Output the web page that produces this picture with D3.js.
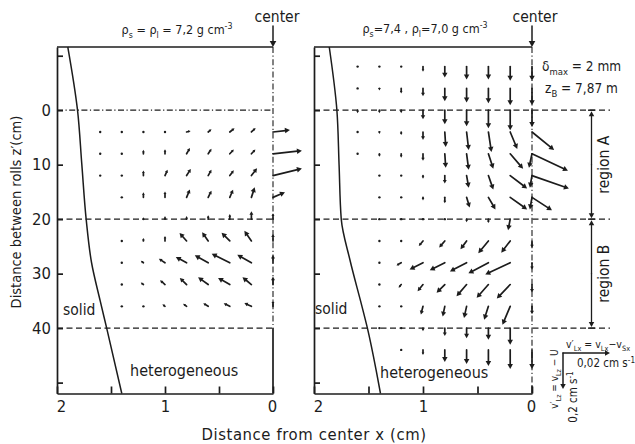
<!DOCTYPE html>
<html><head><meta charset="utf-8">
<script src="https://cdn.jsdelivr.net/npm/d3@7"></script>
<style>
body{margin:0;background:#fff}
svg{display:block}
text{font-family:"DejaVu Sans Condensed","DejaVu Sans",sans-serif;fill:#1c1c1c}
</style>
</head><body>
<svg id="fig" width="635" height="444"></svg>
<script>
// ---- axis ticks ----
const xTickLabels = [2, 1, 0];
const xTickMarks = [2, 1.5, 1, 0.5, 0];
const zTickLabels = [0, 10, 20, 30, 40];
const zTickMarks = [-10, 0, 10, 20, 30, 40, 50];
const zExtent = [-11.6, 52];
const regionLines = [0, 20, 40];

// ---- solid / heterogeneous boundary (x in cm, z' in cm) ----
const boundLeftZ = [-11.6, 0, 10, 20, 28, 35, 40, 52];
const boundLeftX = [1.90, 1.81, 1.77, 1.73, 1.68, 1.60, 1.54, 1.40];
const boundRightZ = [-11.6, 0, 10, 20, 27.5, 36, 40, 47.7, 52];
const boundRightX = [1.86, 1.79, 1.77, 1.75, 1.67, 1.56, 1.51, 1.43, 1.39];

// ---- liquid velocity relative to solid, cm/s ----
// u: horizontal (+ toward centre), w: vertical (+ downward)
const gridCols = [1.6, 1.4, 1.2, 1.0, 0.8, 0.6, 0.4, 0.2, 0.0];

// left: rho_s = rho_l
const leftRows = [4, 8, 12, 16, 20, 24, 28, 32, 36];
const leftU = [
  [0, 0, 0, 0, .0017, .0014, .0020, .0018, null],
  [0, 0, 0, 0, .0014, .0014, .0017, .0017, null],
  [0, 0, 0, .0011, .0018, .0014, .0017, .0024, null],
  [null, 0, 0, 0, .0014, .0014, .0014, .0014, null],
  [null, null, 0, 0, 0, 0, 0, 0, 0],
  [null, 0, 0, 0, -.0030, -.0026, -.0035, -.0030, 0],
  [null, 0, -.0011, -.0026, -.0046, -.0057, -.0077, -.0060, 0],
  [null, 0, -.0011, -.0021, -.0029, -.0043, -.0050, -.0038, 0],
  [null, 0, 0, -.0011, -.0015, -.0021, -.0026, -.0030, 0]
];
const leftW = [
  [0, 0, 0, 0, -.006, -.015, -.021, -.022, null],
  [0, 0, -.022, -.025, -.032, -.028, -.024, -.024, null],
  [0, 0, -.028, -.033, -.037, -.032, -.029, -.041, null],
  [null, 0, -.028, -.033, -.044, -.037, -.043, -.056, null],
  [null, null, -.011, -.017, -.017, -.022, -.028, -.044, -.033],
  [null, 0, -.017, -.028, -.044, -.048, -.046, -.056, -.039],
  [null, 0, -.011, -.022, -.032, -.041, -.050, -.044, -.044],
  [null, 0, -.011, -.024, -.037, -.041, -.037, -.041, -.044],
  [null, 0, 0, -.011, -.014, -.017, -.017, -.018, -.033]
];
const leftCentreRows = [4, 8, 12, 16];
const leftCentreU = [.0072, .0123, .0123, .0051];
const leftCentreW = [-.011, -.017, -.039, -.028];

// right: rho_s = 7.4, rho_l = 7.0
const rightRows = [-8, -4, 0, 4, 8, 12, 16, 20, 24, 28, 32, 36, 40, 44];
const rightU = [
  [0, 0, 0, 0, 0, 0, 0, 0, 0],
  [0, 0, 0, 0, 0, 0, 0, 0, 0],
  [0, 0, 0, 0, 0, 0, 0, 0, 0],
  [0, 0, 0, 0, .0004, .0009, .0013, .0030, null],
  [0, 0, 0, 0, .0004, .0009, .0021, .0055, -.0013],
  [null, 0, 0, 0, 0, .0009, .0021, .0072, -.0009],
  [null, 0, 0, 0, 0, .0013, .0030, .0072, -.0009],
  [null, 0, 0, 0, 0, 0, 0, -.0009, null],
  [null, 0, 0, -.0018, -.0024, -.0026, -.0043, -.0038, 0],
  [null, 0, -.0020, -.0057, -.0064, -.0071, -.0085, -.0106, 0],
  [null, 0, -.0011, -.0023, -.0035, -.0043, -.0050, -.0057, 0],
  [null, 0, 0, -.0009, -.0009, -.0011, -.0018, -.0033, 0],
  [null, 0, 0, 0, 0, 0, 0, 0, null],
  [null, null, 0, 0, 0, 0, 0, 0, 0]
];
const rightW = [
  [0, 0, 0, .028, .061, .072, .072, .078, .078],
  [0, .011, .028, .044, .072, .078, .083, .094, .094],
  [.017, .017, .017, .050, .078, .089, .100, .111, .094],
  [0, .011, .017, .044, .083, .100, .111, .094, null],
  [0, .017, .022, .039, .078, .089, .083, .083, .078],
  [null, 0, 0, .017, .044, .067, .078, .072, .067],
  [null, 0, 0, .017, .033, .056, .067, .067, .067],
  [null, 0, 0, 0, 0, .017, .022, .061, null],
  [null, 0, 0, .028, .037, .046, .068, .065, .039],
  [null, 0, .015, .037, .041, .048, .059, .065, .039],
  [null, 0, .018, .037, .046, .065, .074, .078, .044],
  [null, 0, 0, .046, .056, .065, .074, .102, .044],
  [null, 0, 0, .017, .044, .056, .065, .093, null],
  [null, null, 0, .028, .067, .078, .089, .106, .106]
];
const rightCentreRows = [4, 8, 12, 16];
const rightCentreU = [.0094, .0153, .0157, .0085];
const rightCentreW = [.100, .094, .072, .072];

// reference vectors
const refU = 0.02, refW = 0.2;

// ---- scales ----
const ink = "#1c1c1c";
const svg = d3.select("#fig");
const z = d3.scaleLinear().domain(zExtent).range([47, 393.5]);
const xL = d3.scaleLinear().domain([2, 0]).range([57, 273]);
const xR = d3.scaleLinear().domain([2, 0]).range([314, 532]);
const uS = d3.scaleLinear().domain([0, refU]).range([0, 47]);
const wS = d3.scaleLinear().domain([0, refW]).range([0, 36]);

const dashed = "6,3.5";
const dashDot = "6,2.5,1.2,2.5";

function line(g, x1, y1, x2, y2, dash, w) {
  g.append("line").attr("x1", x1).attr("y1", y1).attr("x2", x2).attr("y2", y2)
    .attr("stroke", ink).attr("stroke-width", w || 1.3)
    .attr("stroke-dasharray", dash || null);
}

function arrow(g, x0, y0, dx, dy, opt) {
  opt = opt || {};
  const len = Math.hypot(dx, dy);
  if (len < 1.3) {
    g.append("circle").attr("cx", x0).attr("cy", y0).attr("r", 1.2).attr("fill", ink);
    return;
  }
  const h = opt.head || Math.min(5, Math.max(2.4, len * 0.45));
  const hw = h * 0.55;
  const ux = dx / len, uy = dy / len;
  const tx = x0 + dx, ty = y0 + dy;
  const bx = tx - ux * h * 0.9, by = ty - uy * h * 0.9;
  g.append("line").attr("x1", x0).attr("y1", y0).attr("x2", bx).attr("y2", by)
    .attr("stroke", ink).attr("stroke-width", opt.w || 1.7).attr("stroke-linecap", "round");
  const hx = tx - ux * h, hy = ty - uy * h;
  g.append("path")
    .attr("d", `M${tx},${ty}L${hx - uy * hw},${hy + ux * hw}L${hx + uy * hw},${hy - ux * hw}Z`)
    .attr("fill", ink);
}

function rich(g, x, y, parts, size, anchor, rotate) {
  const t = g.append("text").attr("font-size", size).attr("text-anchor", anchor || "start");
  if (rotate) t.attr("transform", `translate(${x},${y}) rotate(${rotate})`);
  else t.attr("x", x).attr("y", y);
  let shift = 0;
  parts.forEach(([s, k]) => {
    const target = k === "sub" ? size * 0.28 : k === "sup" ? -size * 0.38 : 0;
    t.append("tspan").attr("dy", target - shift)
      .attr("font-size", k ? size * 0.7 : size).text(s);
    shift = target;
  });
  return t;
}

function panel(x, rows, U, W, cRows, cU, cW, bZ, bX, opts) {
  const g = svg.append("g");
  // frame
  line(g, x(2), z(zExtent[0]), x(0), z(zExtent[0]), null, 1.7);
  const yAxis = d3.axisLeft(z).tickValues(zTickMarks).tickSize(-6).tickSizeOuter(0)
    .tickPadding(6).tickFormat(d => opts.labels && zTickLabels.includes(d) ? d : "");
  const ya = g.append("g").attr("transform", `translate(${x(2)},0)`).call(yAxis);
  const xAxis = d3.axisBottom(x).tickValues(xTickMarks).tickSize(-7).tickSizeOuter(0)
    .tickPadding(7).tickFormat(d => xTickLabels.includes(d) ? d : "");
  const xa = g.append("g").attr("transform", `translate(0,${z(zExtent[1])})`).call(xAxis);
  [ya, xa].forEach(a => {
    a.attr("font-family", null).attr("font-size", 16.5);
    a.selectAll("path,line").attr("stroke", ink).attr("stroke-width", 1.7);
    a.selectAll("text").attr("fill", ink);
  });
  xa.selectAll("text").attr("dx", d => d === 2 ? 4 : d === 0 ? -1 : 0);

  // region borders
  regionLines.forEach(v => {
    const dash = opts.firstDashDot && v === 0 ? dashDot : dashed;
    line(g, x(2), z(v), opts.lineEnd, z(v), dash, 1.3);
  });

  // centre line
  opts.centre(g);

  // solid / heterogeneous boundary
  const pts = bZ.map((v, i) => [x(bX[i]), z(v)]);
  g.append("path").attr("d", d3.line().curve(d3.curveMonotoneY)(pts))
    .attr("fill", "none").attr("stroke", ink).attr("stroke-width", 1.5);

  // velocity grid
  rows.forEach((r, i) => gridCols.forEach((c, j) => {
    const u = U[i][j], w = W[i][j];
    if (u === null || w === null) return;
    arrow(g, x(c), z(r), uS(u), wS(w));
  }));
  cRows.forEach((r, i) => arrow(g, x(0), z(r), uS(cU[i]), wS(cW[i])));
  return g;
}

// left panel
panel(xL, leftRows, leftU, leftW, leftCentreRows, leftCentreU, leftCentreW,
  boundLeftZ, boundLeftX, {
    labels: true, firstDashDot: true, lineEnd: xL(0),
    centre: g => {
      line(g, xL(0), z(zExtent[0]), xL(0), z(40), dashDot, 1.1);
      line(g, xL(0), z(40), xL(0), z(zExtent[1]), null, 1.7);
    }
  });

// right panel
panel(xR, rightRows, rightU, rightW, rightCentreRows, rightCentreU, rightCentreW,
  boundRightZ, boundRightX, {
    labels: false, firstDashDot: false, lineEnd: 610,
    centre: g => {
      line(g, xR(0), z(zExtent[0]), xR(0), z(zExtent[1]) - 8, dashDot, 1.1);
      line(g, xR(0), z(zExtent[1]) - 8, xR(0), z(zExtent[1]), null, 1.7);
    }
  });

// ---- texts ----
const T = svg.append("g");
rich(T, 177, 34, [["ρ"], ["s", "sub"], [" = ρ"], ["l", "sub"], [" = 7,2 g cm"], ["-3", "sup"]], 12.5, "middle");
rich(T, 425, 33, [["ρ"], ["s", "sub"], ["=7,4 ,  ρ"], ["l", "sub"], ["=7,0 g cm"], ["-3", "sup"]], 12.5, "middle");
T.append("text").attr("x", 277).attr("y", 22).attr("font-size", 15.5).attr("text-anchor", "middle").text("center");
T.append("text").attr("x", 535).attr("y", 22).attr("font-size", 15.5).attr("text-anchor", "middle").text("center");
arrow(T, xL(0), 26, 0, z(zExtent[0]) - 26, { head: 6, w: 1.5 });
arrow(T, xR(0), 26, 0, z(zExtent[0]) - 26, { head: 6, w: 1.5 });

rich(T, 542, 71, [["δ"], ["max", "sub"], [" = 2  mm"]], 13.5, "start");
rich(T, 545, 93, [["z"], ["B", "sub"], [" = 7,87  m"]], 13.5, "start");

T.append("text").attr("font-size", 14.5).attr("text-anchor", "middle")
  .attr("transform", "translate(21,212) rotate(-90)").text("Distance between rolls  z′(cm)");
T.append("text").attr("x", 314).attr("y", 440).attr("font-size", 16.5).attr("letter-spacing", 0.6)
  .attr("text-anchor", "middle").text("Distance from center  x (cm)");

T.append("text").attr("x", 63).attr("y", 315).attr("font-size", 15.5).text("solid");
T.append("text").attr("x", 315).attr("y", 314).attr("font-size", 15.5).text("solid");
T.append("text").attr("x", 130).attr("y", 376).attr("font-size", 16).text("heterogeneous");
T.append("text").attr("x", 380).attr("y", 378).attr("font-size", 16).text("heterogeneous");

// region brackets
const bx = 591.5;
[[0, 20], [20, 40]].forEach(([a, b]) => {
  const mid = (z(a) + z(b)) / 2;
  arrow(T, bx, mid, 0, z(a) - mid + 1, { head: 5, w: 1.3 });
  arrow(T, bx, mid, 0, z(b) - mid - 1, { head: 5, w: 1.3 });
});
regionLines.forEach(v => line(T, bx - 3.5, z(v), bx + 3.5, z(v), null, 1.4));
T.append("text").attr("font-size", 15.5).attr("text-anchor", "middle")
  .attr("transform", `translate(609,${(z(0) + z(20)) / 2}) rotate(-90)`).text("region A");
T.append("text").attr("font-size", 15.5).attr("text-anchor", "middle")
  .attr("transform", `translate(609,${(z(20) + z(40)) / 2}) rotate(-90)`).text("region B");

// reference vectors
const ox = 563, oy = 353;
arrow(T, ox, oy, uS(refU), 0, { head: 5, w: 1.5 });
arrow(T, ox, oy, 0, wS(refW), { head: 5, w: 1.5 });
rich(T, 566, 348, [["v′"], ["Lx", "sub"], [" = v"], ["Lx", "sub"], ["−v"], ["Sx", "sub"]], 10.5, "start");
rich(T, 577, 367, [["0,02 cm s"], ["-1", "sup"]], 11.5, "start");
rich(T, 558, 379, [["v′"], ["Lz", "sub"], [" = v"], ["Lz", "sub"], [" − U"]], 10, "middle", -90);
rich(T, 577, 397, [["0,2 cm s"], ["-1", "sup"]], 11.5, "middle", -90);
</script>
</body></html>
